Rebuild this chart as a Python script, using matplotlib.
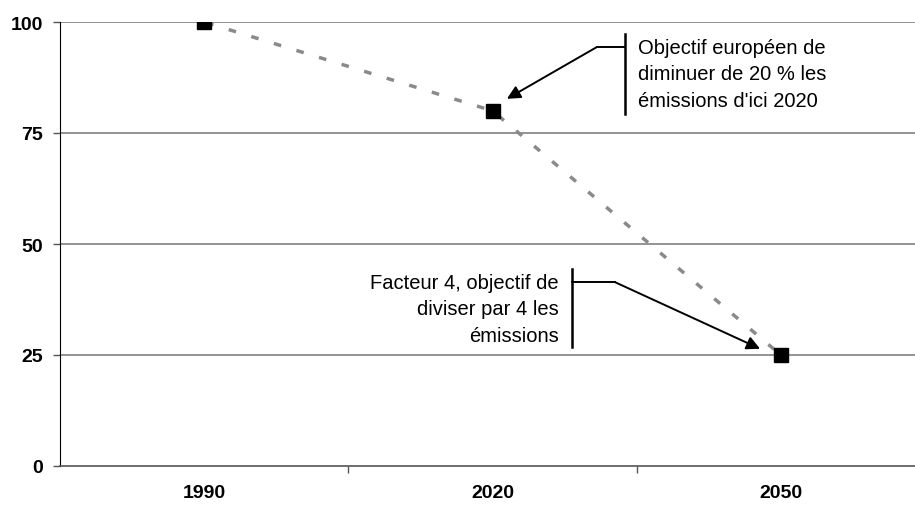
import matplotlib
matplotlib.use("Agg")
from matplotlib import pyplot as plt

plt.rcParams['font.family'] = ['Liberation Sans', 'DejaVu Sans']

years = ["1990", "2020", "2050"]
emissions = [100, 80, 25]
yticks = [0, 25, 50, 75, 100]

note_2020 = "Objectif européen de\ndiminuer de 20 % les\némissions d'ici 2020"
note_2050 = "Facteur 4, objectif de\ndiviser par 4 les\némissions"

fig = plt.figure(figsize=(9.15, 5.06), dpi=100)
ax = fig.add_axes([60/915, 39/506, 865/915, 444/506])

xs = list(range(len(years)))
ax.plot(xs, emissions, color='#8a8a8a', linewidth=2.5,
        linestyle=(13, (2.2, 4.6)), solid_capstyle='butt', zorder=3)
ax.plot(xs, emissions, linestyle='none', marker='s', markersize=10,
        color='black', zorder=4)

ax.set_xlim(-0.5, 2.5)
ax.set_ylim(0, 100)
ax.set_yticks(yticks)
ax.set_yticklabels([str(v) for v in yticks], fontweight='bold', fontsize=14)
ax.set_xticks(xs)
ax.set_xticklabels(years, fontweight='bold', fontsize=14)
ax.tick_params(axis='x', length=0, pad=13)
ax.set_xticks([0.5, 1.5, 2.5], minor=True)
ax.tick_params(axis='x', which='minor', length=5, width=1, color='#555555')
ax.tick_params(axis='y', length=5, width=1, color='#555555', pad=7)

for v in yticks[1:]:
    ax.axhline(v, color='#808080', linewidth=1.2, zorder=1)

for s in ['top', 'right']:
    ax.spines[s].set_visible(False)
ax.spines['left'].set_color('black')
ax.spines['bottom'].set_color('#555555')
ax.spines['bottom'].set_linewidth(1.2)

# callout 2020
ax.plot([1.46, 1.46], [79.3, 97.3], color='black', linewidth=1.8)
ax.plot([1.46, 1.363], [94.4, 94.4], color='black', linewidth=1.4)
ax.annotate("", xy=(1.05, 82.7), xytext=(1.363, 94.4),
            arrowprops=dict(arrowstyle='-|>', color='black', lw=1.4,
                            mutation_scale=20, shrinkA=0, shrinkB=0))
ax.text(1.505, 88.3, note_2020, ha='left', va='center', fontsize=14.5,
        linespacing=1.52)

# callout 2050
ax.plot([1.276, 1.276], [26.8, 44.4], color='black', linewidth=1.8)
ax.plot([1.276, 1.425], [41.4, 41.4], color='black', linewidth=1.4)
ax.annotate("", xy=(1.928, 26.4), xytext=(1.425, 41.4),
            arrowprops=dict(arrowstyle='-|>', color='black', lw=1.4,
                            mutation_scale=20, shrinkA=0, shrinkB=0))
ax.text(1.231, 35.4, note_2050, ha='right', va='center', fontsize=14.5,
        linespacing=1.52, multialignment='right')

fig.savefig("out.png", dpi=100)
